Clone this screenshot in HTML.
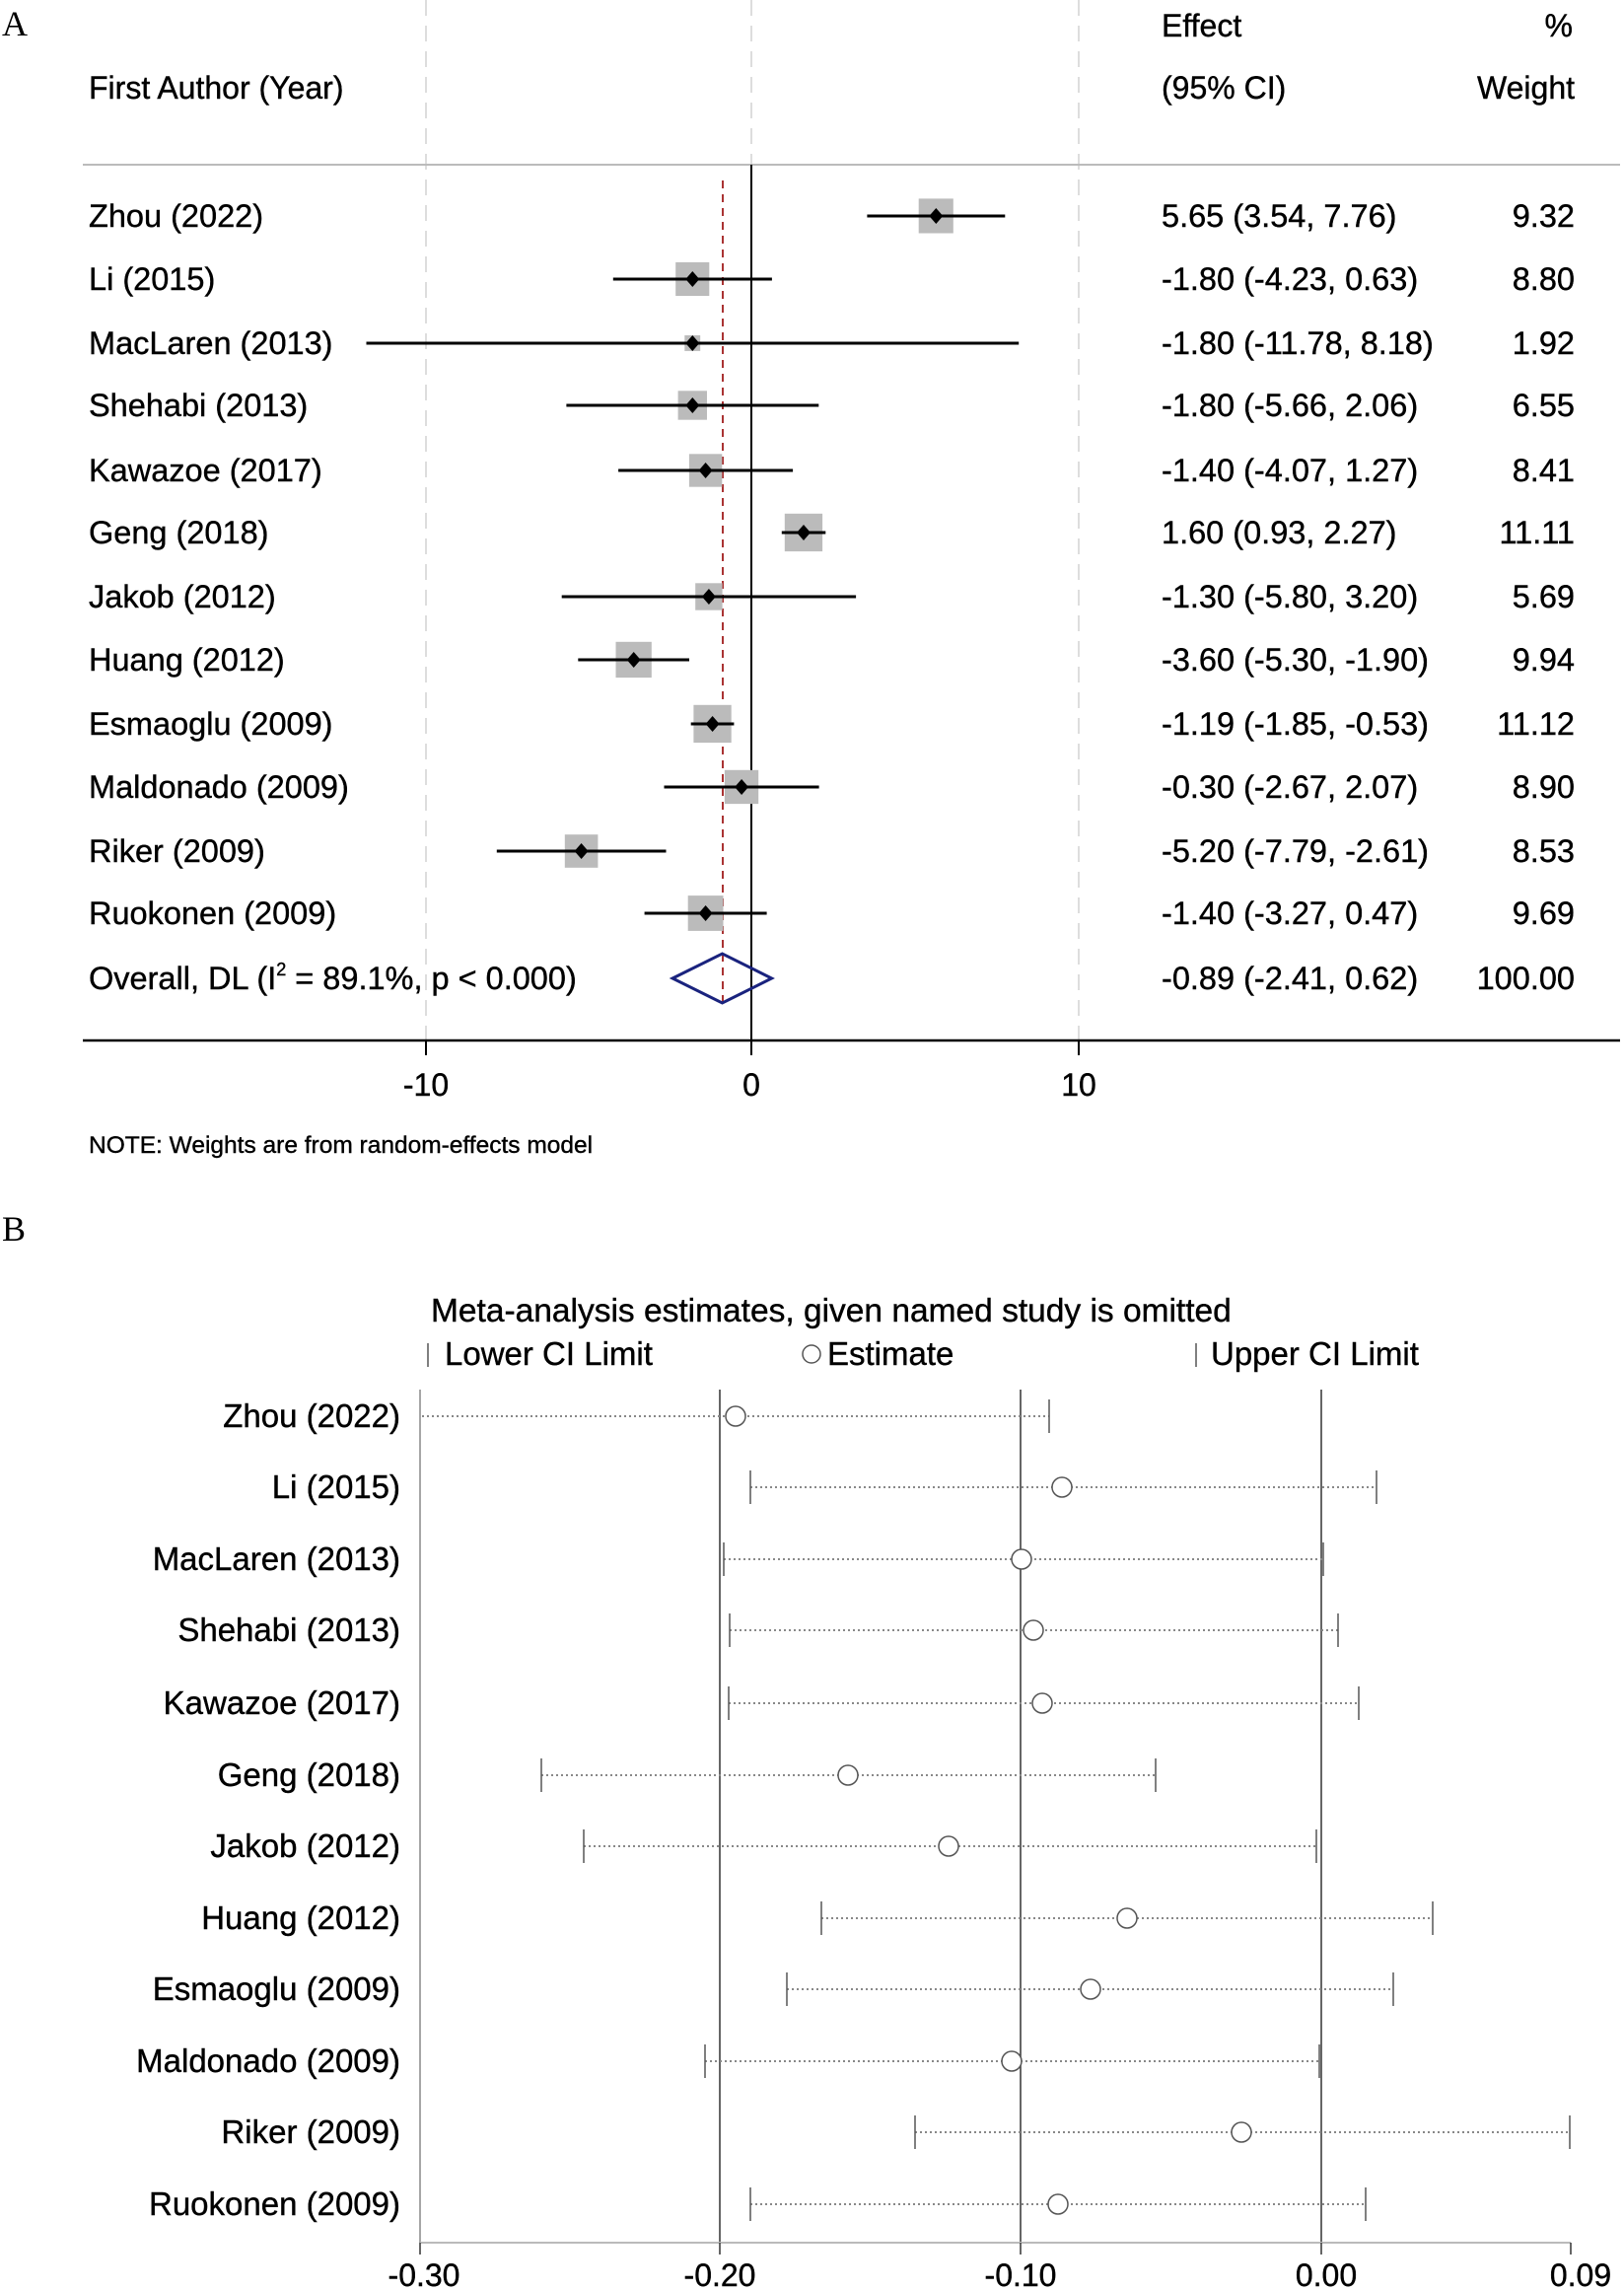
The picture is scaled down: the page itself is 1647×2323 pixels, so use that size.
<!DOCTYPE html>
<html><head><meta charset="utf-8"><style>
html,body{margin:0;padding:0;background:#fff;}
svg{display:block;}
text{font-family:"Liberation Sans",Arial,sans-serif;fill:#000;stroke:#000;stroke-width:0.4;}
</style></head><body>
<svg width="1647" height="2323" viewBox="0 0 1647 2323" xmlns="http://www.w3.org/2000/svg">
<!-- Panel A -->
<text x="2" y="36" style="font-family:'Liberation Serif',serif;stroke-width:0" font-size="36">A</text>
<g stroke="#ddd" stroke-width="2" stroke-dasharray="16,10">
<line x1="432" y1="0" x2="432" y2="1055"/>
<line x1="762" y1="0" x2="762" y2="167"/>
<line x1="1094" y1="0" x2="1094" y2="1055"/>
</g>
<line x1="84" y1="167" x2="1643" y2="167" stroke="#bbb" stroke-width="2"/>
<line x1="762" y1="167" x2="762" y2="1055" stroke="#000" stroke-width="2"/>
<g font-size="32">
<text x="1178" y="37">Effect</text>
<text x="1595" y="37" text-anchor="end">%</text>
<text x="90" y="100">First Author (Year)</text>
<text x="1178" y="100">(95% CI)</text>
<text x="1597" y="100" text-anchor="end">Weight</text>
</g>
<line x1="733" y1="183" x2="733" y2="1021" stroke="#a33" stroke-width="2" stroke-dasharray="8,6"/>
<g fill="#bbb">
<rect x="931.7" y="201.4" width="35.1" height="35.1"/>
<rect x="685.2" y="265.9" width="34.1" height="34.1"/>
<rect x="694.3" y="340" width="15.9" height="15.9"/>
<rect x="687.6" y="396.3" width="29.4" height="29.4"/>
<rect x="698.9" y="460.3" width="33.4" height="33.4"/>
<rect x="795.8" y="520.8" width="38.3" height="38.3"/>
<rect x="705.2" y="591.3" width="27.4" height="27.4"/>
<rect x="624.5" y="650.8" width="36.3" height="36.3"/>
<rect x="703.4" y="714.8" width="38.3" height="38.3"/>
<rect x="734.9" y="780.8" width="34.3" height="34.3"/>
<rect x="572.8" y="846.2" width="33.6" height="33.6"/>
<rect x="697.7" y="908.1" width="35.8" height="35.8"/>
</g>
<g stroke="#000" stroke-width="3">
<line x1="879.4" y1="219" x2="1019.3" y2="219"/>
<line x1="621.8" y1="283" x2="782.9" y2="283"/>
<line x1="371.5" y1="348" x2="1033.2" y2="348"/>
<line x1="574.4" y1="411" x2="830.3" y2="411"/>
<line x1="627.1" y1="477" x2="804.1" y2="477"/>
<line x1="792.8" y1="540" x2="837.3" y2="540"/>
<line x1="569.7" y1="605" x2="868.1" y2="605"/>
<line x1="586.3" y1="669" x2="699" y2="669"/>
<line x1="700.7" y1="734" x2="744.4" y2="734"/>
<line x1="673.5" y1="798" x2="830.6" y2="798"/>
<line x1="503.8" y1="863" x2="675.5" y2="863"/>
<line x1="653.6" y1="926" x2="777.6" y2="926"/>
</g>
<g fill="#000">
<path d="M949.3 211 l7 8 l-7 8 l-7 -8z"/>
<path d="M702.3 275 l7 8 l-7 8 l-7 -8z"/>
<path d="M702.3 340 l7 8 l-7 8 l-7 -8z"/>
<path d="M702.3 403 l7 8 l-7 8 l-7 -8z"/>
<path d="M715.6 469 l7 8 l-7 8 l-7 -8z"/>
<path d="M815 532 l7 8 l-7 8 l-7 -8z"/>
<path d="M718.9 597 l7 8 l-7 8 l-7 -8z"/>
<path d="M642.7 661 l7 8 l-7 8 l-7 -8z"/>
<path d="M722.6 726 l7 8 l-7 8 l-7 -8z"/>
<path d="M752.1 790 l7 8 l-7 8 l-7 -8z"/>
<path d="M589.6 855 l7 8 l-7 8 l-7 -8z"/>
<path d="M715.6 918 l7 8 l-7 8 l-7 -8z"/>
</g>
<path d="M682.1 992 L732.5 967 L782.6 992 L732.5 1017 Z" fill="none" stroke="#1a237e" stroke-width="3"/>
<g font-size="32.5">
<text x="90" y="230">Zhou (2022)</text>
<text x="90" y="294">Li (2015)</text>
<text x="90" y="359">MacLaren (2013)</text>
<text x="90" y="422">Shehabi (2013)</text>
<text x="90" y="488">Kawazoe (2017)</text>
<text x="90" y="551">Geng (2018)</text>
<text x="90" y="616">Jakob (2012)</text>
<text x="90" y="680">Huang (2012)</text>
<text x="90" y="745">Esmaoglu (2009)</text>
<text x="90" y="809">Maldonado (2009)</text>
<text x="90" y="874">Riker (2009)</text>
<text x="90" y="937">Ruokonen (2009)</text>
<text x="90" y="1003">Overall, DL (I<tspan font-size="18" dy="-14">2</tspan><tspan dy="14"> = 89.1%, p &lt; 0.000)</tspan></text>
<text x="1178" y="230">5.65 (3.54, 7.76)</text>
<text x="1178" y="294">-1.80 (-4.23, 0.63)</text>
<text x="1178" y="359">-1.80 (-11.78, 8.18)</text>
<text x="1178" y="422">-1.80 (-5.66, 2.06)</text>
<text x="1178" y="488">-1.40 (-4.07, 1.27)</text>
<text x="1178" y="551">1.60 (0.93, 2.27)</text>
<text x="1178" y="616">-1.30 (-5.80, 3.20)</text>
<text x="1178" y="680">-3.60 (-5.30, -1.90)</text>
<text x="1178" y="745">-1.19 (-1.85, -0.53)</text>
<text x="1178" y="809">-0.30 (-2.67, 2.07)</text>
<text x="1178" y="874">-5.20 (-7.79, -2.61)</text>
<text x="1178" y="937">-1.40 (-3.27, 0.47)</text>
<text x="1178" y="1003">-0.89 (-2.41, 0.62)</text>
<g text-anchor="end">
<text x="1597" y="230">9.32</text>
<text x="1597" y="294">8.80</text>
<text x="1597" y="359">1.92</text>
<text x="1597" y="422">6.55</text>
<text x="1597" y="488">8.41</text>
<text x="1597" y="551">11.11</text>
<text x="1597" y="616">5.69</text>
<text x="1597" y="680">9.94</text>
<text x="1597" y="745">11.12</text>
<text x="1597" y="809">8.90</text>
<text x="1597" y="874">8.53</text>
<text x="1597" y="937">9.69</text>
<text x="1597" y="1003">100.00</text>
</g>
</g>
<line x1="84" y1="1055" x2="1643" y2="1055" stroke="#000" stroke-width="2.5"/>
<g stroke="#000" stroke-width="2">
<line x1="432" y1="1055" x2="432" y2="1070"/>
<line x1="762" y1="1055" x2="762" y2="1070"/>
<line x1="1094" y1="1055" x2="1094" y2="1070"/>
</g>
<g font-size="32" text-anchor="middle">
<text x="432" y="1111">-10</text>
<text x="762" y="1111">0</text>
<text x="1094" y="1111">10</text>
</g>
<text x="90" y="1169" font-size="24.5">NOTE: Weights are from random-effects model</text>

<!-- Panel B -->
<text x="2" y="1258" style="font-family:'Liberation Serif',serif;stroke-width:0" font-size="36">B</text>
<text x="437" y="1340" font-size="33.5">Meta-analysis estimates, given named study is omitted</text>
<g font-size="33">
<line x1="434" y1="1362" x2="434" y2="1386" stroke="#555" stroke-width="1.5"/>
<text x="451" y="1384">Lower CI Limit</text>
<circle cx="823" cy="1373" r="9" fill="none" stroke="#555" stroke-width="1.5"/>
<text x="839" y="1384">Estimate</text>
<line x1="1213" y1="1362" x2="1213" y2="1386" stroke="#555" stroke-width="1.5"/>
<text x="1228" y="1384">Upper CI Limit</text>
</g>
<line x1="426" y1="1409" x2="426" y2="2274" stroke="#888" stroke-width="1.5"/>
<g stroke="#333" stroke-width="1.5">
<line x1="730" y1="1409" x2="730" y2="2274"/>
<line x1="1035" y1="1409" x2="1035" y2="2274"/>
<line x1="1340" y1="1409" x2="1340" y2="2274"/>
</g>
<line x1="426" y1="2274" x2="1593" y2="2274" stroke="#bbb" stroke-width="2"/>
<g stroke="#333" stroke-width="1.5">
<line x1="426" y1="2274" x2="426" y2="2286"/>
<line x1="730" y1="2274" x2="730" y2="2286"/>
<line x1="1035" y1="2274" x2="1035" y2="2286"/>
<line x1="1340" y1="2274" x2="1340" y2="2286"/>
<line x1="1593" y1="2274" x2="1593" y2="2286"/>
</g>
<g font-size="32" text-anchor="middle">
<text x="430" y="2318">-0.30</text>
<text x="730" y="2318">-0.20</text>
<text x="1035" y="2318">-0.10</text>
<text x="1345" y="2318">0.00</text>
<text x="1603" y="2318">0.09</text>
</g>
<g stroke="#888" stroke-width="2" stroke-dasharray="2,3">
<line x1="428" y1="1436" x2="1064" y2="1436"/>
<line x1="761" y1="1508" x2="1396" y2="1508"/>
<line x1="734" y1="1581" x2="1342" y2="1581"/>
<line x1="740" y1="1653" x2="1357" y2="1653"/>
<line x1="739" y1="1727" x2="1378" y2="1727"/>
<line x1="549" y1="1800" x2="1172" y2="1800"/>
<line x1="592" y1="1872" x2="1335" y2="1872"/>
<line x1="833" y1="1945" x2="1453" y2="1945"/>
<line x1="798" y1="2017" x2="1413" y2="2017"/>
<line x1="715" y1="2090" x2="1338" y2="2090"/>
<line x1="928" y1="2162" x2="1592" y2="2162"/>
<line x1="761" y1="2235" x2="1385" y2="2235"/>
</g>
<g stroke="#555" stroke-width="1.5">
<line x1="1064" y1="1419" x2="1064" y2="1453"/>
<line x1="761" y1="1491" x2="761" y2="1525"/><line x1="1396" y1="1491" x2="1396" y2="1525"/>
<line x1="734" y1="1564" x2="734" y2="1598"/><line x1="1342" y1="1564" x2="1342" y2="1598"/>
<line x1="740" y1="1636" x2="740" y2="1670"/><line x1="1357" y1="1636" x2="1357" y2="1670"/>
<line x1="739" y1="1710" x2="739" y2="1744"/><line x1="1378" y1="1710" x2="1378" y2="1744"/>
<line x1="549" y1="1783" x2="549" y2="1817"/><line x1="1172" y1="1783" x2="1172" y2="1817"/>
<line x1="592" y1="1855" x2="592" y2="1889"/><line x1="1335" y1="1855" x2="1335" y2="1889"/>
<line x1="833" y1="1928" x2="833" y2="1962"/><line x1="1453" y1="1928" x2="1453" y2="1962"/>
<line x1="798" y1="2000" x2="798" y2="2034"/><line x1="1413" y1="2000" x2="1413" y2="2034"/>
<line x1="715" y1="2073" x2="715" y2="2107"/><line x1="1338" y1="2073" x2="1338" y2="2107"/>
<line x1="928" y1="2145" x2="928" y2="2179"/><line x1="1592" y1="2145" x2="1592" y2="2179"/>
<line x1="761" y1="2218" x2="761" y2="2252"/><line x1="1385" y1="2218" x2="1385" y2="2252"/>
</g>
<g fill="#fff" stroke="#555" stroke-width="1.5">
<circle cx="746" cy="1436" r="10"/>
<circle cx="1077" cy="1508" r="10"/>
<circle cx="1036" cy="1581" r="10"/>
<circle cx="1048" cy="1653" r="10"/>
<circle cx="1057" cy="1727" r="10"/>
<circle cx="860" cy="1800" r="10"/>
<circle cx="962" cy="1872" r="10"/>
<circle cx="1143" cy="1945" r="10"/>
<circle cx="1106" cy="2017" r="10"/>
<circle cx="1026" cy="2090" r="10"/>
<circle cx="1259" cy="2162" r="10"/>
<circle cx="1073" cy="2235" r="10"/>
</g>
<g font-size="33" text-anchor="end">
<text x="406" y="1447">Zhou (2022)</text>
<text x="406" y="1519">Li (2015)</text>
<text x="406" y="1592">MacLaren (2013)</text>
<text x="406" y="1664">Shehabi (2013)</text>
<text x="406" y="1738">Kawazoe (2017)</text>
<text x="406" y="1811">Geng (2018)</text>
<text x="406" y="1883">Jakob (2012)</text>
<text x="406" y="1956">Huang (2012)</text>
<text x="406" y="2028">Esmaoglu (2009)</text>
<text x="406" y="2101">Maldonado (2009)</text>
<text x="406" y="2173">Riker (2009)</text>
<text x="406" y="2246">Ruokonen (2009)</text>
</g>
</svg>
</body></html>
